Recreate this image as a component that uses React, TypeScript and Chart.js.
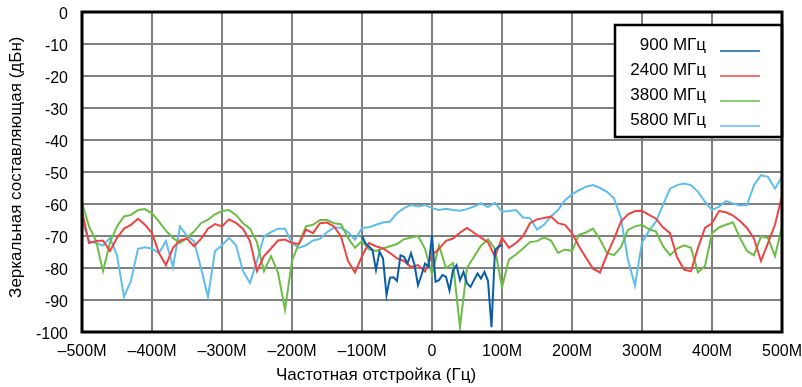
import React, { useEffect, useRef } from 'react';
import { Chart, registerables } from 'chart.js';

Chart.register(...registerables);

// Frequency offsets (MHz) for the wide-span series
const offsets = [
  -500, -490, -480, -470, -460, -450, -440, -430, -420, -410,
  -400, -390, -380, -370, -360, -350, -340, -330, -320, -310,
  -300, -290, -280, -270, -260, -250, -240, -230, -220, -210,
  -200, -190, -180, -170, -160, -150, -140, -130, -120, -110,
  -100, -90, -80, -70, -60, -50, -40, -30, -20, -10,
  0, 10, 20, 30, 40, 50, 60, 70, 80, 90,
  100, 110, 120, 130, 140, 150, 160, 170, 180, 190,
  200, 210, 220, 230, 240, 250, 260, 270, 280, 290,
  300, 310, 320, 330, 340, 350, 360, 370, 380, 390,
  400, 410, 420, 430, 440, 450, 460, 470, 480, 490,
  500,
];

// Frequency offsets (MHz) for the 900 MHz series
const offsets900 = [
  -100, -95, -90, -85, -80, -75, -70, -65, -60, -55,
  -50, -45, -40, -35, -30, -25, -20, -15, -10, -5,
  0, 5, 10, 15, 20, 25, 30, 35, 40, 45,
  50, 55, 60, 65, 70, 75, 80, 85, 90, 95,
  100,
];

const s900 = [
  -70, -72.3, -73.3, -74.4, -80.6, -74.9, -77, -88.5, -83, -82.9,
  -84, -76, -76.5, -78.6, -75.4, -79, -85.4, -82.2, -78.6, -79.6,
  -69.8, -84.3, -83.8, -82.2, -82.7, -87, -80.7, -79.1, -83.8, -81.2,
  -84.8, -85.9, -83.8, -81.7, -83.3, -81.2, -84, -98.5, -74.4, -73.4,
  -72.8,
];

const s2400 = [
  -62.2, -72.2, -71.6, -71.4, -74.7, -70.6, -67.7, -66.5, -64.6, -66.5,
  -69.1, -75.3, -79.1, -73.7, -71.4, -70.8, -73.2, -70.9, -67.7, -66.3,
  -67, -64.8, -65.9, -67.7, -71.6, -81, -76.3, -73.9, -71.4, -71.1,
  -72.2, -72.5, -68, -69.1, -66, -65.8, -67, -70.1, -77.8, -81.4,
  -76.3, -72.2, -73.2, -73.9, -75.3, -77, -77.8, -79.7, -79.1, -81.1,
  -76, -74, -71.5, -70.8, -69, -67.5, -69, -70.5, -72, -76.5,
  -70.5, -73.7, -72.2, -70.1, -66, -64.8, -64.4, -63.9, -66, -66.5,
  -69.1, -73.2, -76.8, -80.2, -81.4, -75.8, -70.9, -65.5, -63.2, -62.2,
  -62.1, -63.4, -64.6, -67.3, -69.1, -76.6, -80.5, -81, -73.7, -67.5,
  -66, -62.2, -62.6, -63.6, -65.3, -67.5, -70.8, -77.8, -72.2, -66.5,
  -57.5,
];

const s3800 = [
  -59.6, -67, -71.4, -81, -72, -67, -63.9, -63.4, -61.9, -61.6,
  -62.9, -65.5, -68.4, -70.6, -72.2, -70.6, -68.6, -66, -64.9, -63.2,
  -62.2, -61.9, -63.4, -66, -67.7, -72, -81, -76.3, -81.4, -93,
  -77.8, -72.2, -67, -66.5, -65, -65, -66, -66.3, -70.6, -73.7,
  -71.6, -74.2, -74.7, -73.9, -73.2, -72.5, -71, -70.5, -70, -74,
  -82, -73, -80, -78.5, -98.5, -80, -76.5, -73, -71, -74,
  -86, -77.3, -75.8, -73.9, -71.9, -71.6, -70.4, -71.4, -75.3, -74.2,
  -74.7, -69.6, -68.9, -67.7, -71.1, -75.3, -76, -73.5, -68.1, -67,
  -66.5, -67.9, -68.6, -73.2, -76, -73.9, -72.9, -73.7, -81.4, -79.4,
  -69.1, -67.3, -66.5, -65.7, -70.6, -74.7, -76, -70.1, -70.6, -76.3,
  -67,
];

const s5800 = [
  -65, -71.6, -72.2, -73, -70.6, -76, -89, -84, -74, -73.5,
  -74, -75.3, -71.6, -79.7, -67, -70, -71.6, -80, -89, -74.7,
  -72.9, -70.6, -72.9, -81, -84.7, -77.8, -70.1, -68.8, -67.7, -67.7,
  -72.2, -73.7, -72.9, -71.4, -70.9, -68.8, -67.3, -67.5, -68.8, -71.1,
  -67.5, -67.3, -66.5, -65.8, -65.5, -62.9, -61.3, -60.3, -60.8, -60.3,
  -61.3, -61.9, -61.5, -61.9, -62.1, -61.6, -60.8, -59.8, -61, -59.6,
  -62.4, -62.2, -61.9, -64.2, -64.4, -68, -66.5, -63.9, -61.9, -58.8,
  -57, -55.7, -54.6, -54.1, -55, -56.2, -58.2, -64.4, -77.5, -85.5,
  -72, -68.4, -65.5, -60.3, -55.2, -54.1, -53.6, -54.1, -56.2, -59.3,
  -61.9, -60.8, -59.1, -59.8, -60.5, -60.3, -54.1, -51, -51.5, -55.2,
  -51.5,
];

const seriesLabels = ['900 МГц', '2400 МГц', '3800 МГц', '5800 МГц'];
const seriesColors = ['#0A5EA8', '#EF4343', '#6CBD45', '#5DBDEB'];

const xTitle = 'Частотная отстройка (Гц)';
const yTitle = 'Зеркальная составляющая (дБн)';

const FONT = "'Liberation Sans', Arial, sans-serif";

const pair = (xs: number[], ys: number[]) => ys.map((y, i) => ({ x: xs[i], y }));

const frameAndLegend = {
  id: 'frameAndLegend',
  afterDatasetsDraw(chart: any) {
    const ctx = chart.ctx;
    const a = chart.chartArea;
    ctx.save();
    // legend box
    const bl = a.right - 167;
    const bt = a.top + 13;
    const bb = a.top + 125;
    ctx.fillStyle = '#ffffff';
    ctx.fillRect(bl, bt, a.right - bl, bb - bt);
    ctx.strokeStyle = '#000000';
    ctx.lineWidth = 2.5;
    ctx.strokeRect(bl, bt, a.right - bl, bb - bt);
    ctx.font = `17px ${FONT}`;
    ctx.textAlign = 'right';
    ctx.textBaseline = 'middle';
    chart.data.datasets.forEach((ds: any, i: number) => {
      const cy = a.top + 33 + 25 * i;
      ctx.fillStyle = '#000000';
      ctx.fillText(ds.label, a.right - 76, cy);
      ctx.strokeStyle = ds.borderColor;
      ctx.lineWidth = 1.5;
      ctx.beginPath();
      ctx.moveTo(a.right - 62, cy + 6);
      ctx.lineTo(a.right - 22, cy + 6);
      ctx.stroke();
    });
    // plot frame
    ctx.strokeStyle = '#000000';
    ctx.lineWidth = 3;
    ctx.strokeRect(a.left, a.top, a.right - a.left, a.bottom - a.top);

    // axis titles
    ctx.fillStyle = '#000000';
    ctx.font = `17px ${FONT}`;
    ctx.textAlign = 'center';
    ctx.textBaseline = 'alphabetic';
    ctx.fillText(xTitle, a.left + (a.right - a.left) * 0.42, a.bottom + 48);
    ctx.save();
    ctx.translate(20.5, a.top + (a.bottom - a.top) * 0.485);
    ctx.rotate(-Math.PI / 2);
    ctx.fillText(yTitle, 0, 0);
    ctx.restore();
    ctx.restore();
  },
};

export default function App() {
  const ref = useRef<HTMLCanvasElement | null>(null);

  useEffect(() => {
    if (!ref.current) return;
    const allSeries = [s900, s2400, s3800, s5800];
    const allX = [offsets900, offsets, offsets, offsets];
    const chart = new Chart(ref.current, {
      type: 'line',
      data: {
        datasets: allSeries.map((s, i) => ({
          label: seriesLabels[i],
          data: pair(allX[i], s),
          borderColor: seriesColors[i],
          backgroundColor: seriesColors[i],
          borderWidth: 2,
          pointRadius: 0,
          tension: 0,
          fill: false,
        })),
      },
      options: {
        animation: false,
        responsive: false,
        devicePixelRatio: 1,
        layout: { padding: { top: 12, right: 20, left: 0, bottom: 0 } },
        plugins: { legend: { display: false }, tooltip: { enabled: false } },
        scales: {
          x: {
            type: 'linear',
            min: -500,
            max: 500,
            afterFit: (s: any) => {
              s.height = 55;
              s.paddingLeft = 0;
              s.paddingRight = 0;
            },
            ticks: {
              stepSize: 100,
              autoSkip: false,
              maxRotation: 0,
              color: '#000',
              padding: 10,
              font: { family: FONT, size: 16 },
              callback: (v: any) => (v === 0 ? '0' : v < 0 ? '–' + Math.abs(v) + 'M' : v + 'M'),
            },
            grid: { color: '#808080', lineWidth: 2, drawTicks: false },
            border: { display: false },
            title: { display: false },
          },
          y: {
            min: -100,
            max: 0,
            afterFit: (s: any) => {
              s.width = 82;
              s.paddingTop = 0;
              s.paddingBottom = 0;
            },
            ticks: {
              stepSize: 10,
              color: '#000',
              padding: 14,
              labelOffset: 3,
              font: { family: FONT, size: 16 },
              callback: (v: any) => String(v),
            },
            grid: { color: '#808080', lineWidth: 2, drawTicks: false },
            border: { display: false },
            title: { display: false },
          },
        },
      },
      plugins: [frameAndLegend],
    } as any);
    return () => chart.destroy();
  }, []);

  return (
    <div style={{ position: 'absolute', left: 0, top: 0, width: 802, height: 387, background: '#fff' }}>
      <canvas ref={ref} width={802} height={387} style={{ width: 802, height: 387, display: 'block' }} />
    </div>
  );
}
